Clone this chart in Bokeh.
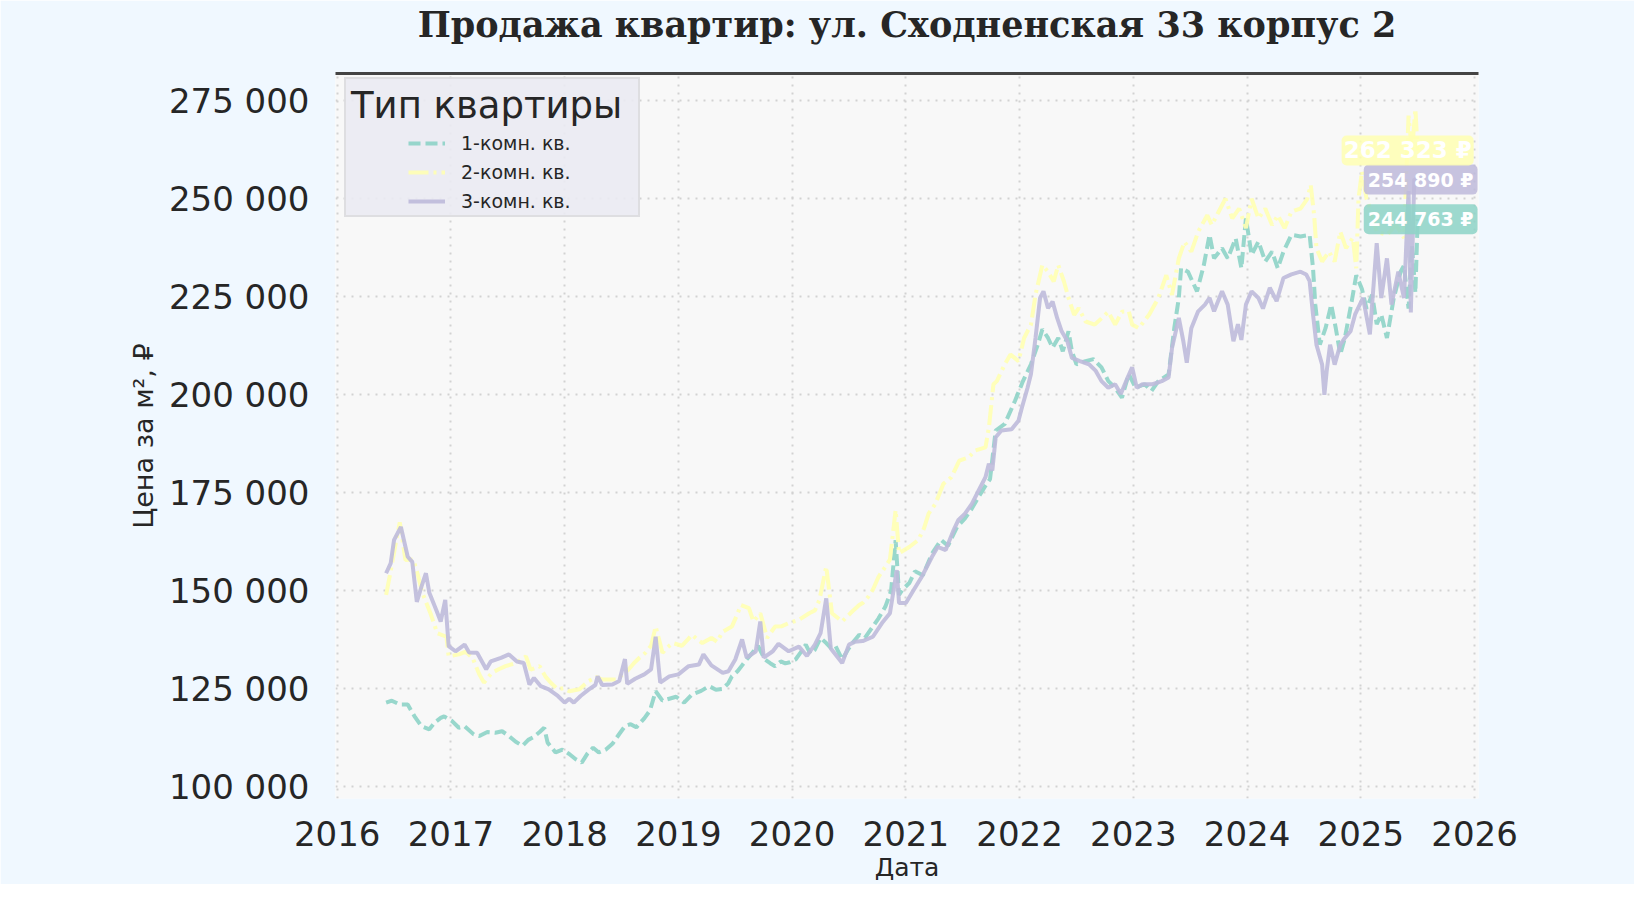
from bokeh.plotting import figure
from bokeh.models import (Legend, LegendItem, Label, LinearAxis, FixedTicker,
                          Range1d)
from bokeh.embed import file_html
from bokeh.resources import INLINE

# ---- data (dates as decimal years, prices in rub / m2) ----
t1 = [2016.43, 2016.48, 2016.55, 2016.62, 2016.68, 2016.74, 2016.81, 2016.86, 2016.91, 2016.94,
      2017.01, 2017.07, 2017.12, 2017.20, 2017.25, 2017.32, 2017.39, 2017.45, 2017.51, 2017.57,
      2017.63, 2017.68, 2017.72, 2017.78, 2017.82, 2017.85, 2017.92, 2017.98, 2018.04, 2018.10,
      2018.15, 2018.20, 2018.25, 2018.30, 2018.36, 2018.42, 2018.48, 2018.53, 2018.58, 2018.63,
      2018.70, 2018.75, 2018.80, 2018.86, 2018.92, 2018.98, 2019.05, 2019.12, 2019.20, 2019.27,
      2019.33, 2019.39, 2019.44, 2019.47, 2019.52, 2019.56, 2019.60, 2019.65, 2019.70, 2019.76,
      2019.81, 2019.85, 2019.90, 2019.94, 2019.98, 2020.03, 2020.08, 2020.12, 2020.16, 2020.20,
      2020.25, 2020.30, 2020.34, 2020.38, 2020.44, 2020.49, 2020.53, 2020.59, 2020.64, 2020.70,
      2020.76, 2020.82, 2020.87, 2020.91, 2020.94, 2020.97, 2021.03, 2021.08, 2021.15, 2021.23,
      2021.31, 2021.37, 2021.45, 2021.52, 2021.58, 2021.64, 2021.70, 2021.74, 2021.79, 2021.87,
      2021.96, 2022.03, 2022.10, 2022.16, 2022.20, 2022.25, 2022.29, 2022.34, 2022.38, 2022.43,
      2022.46, 2022.50, 2022.58, 2022.65, 2022.72, 2022.78, 2022.84, 2022.90, 2022.96, 2023.02,
      2023.10, 2023.16, 2023.22, 2023.31, 2023.36, 2023.40, 2023.42, 2023.48, 2023.56, 2023.62,
      2023.67, 2023.71, 2023.78, 2023.83, 2023.90, 2023.95, 2023.99, 2024.04, 2024.10, 2024.16,
      2024.22, 2024.27, 2024.32, 2024.39, 2024.47, 2024.55, 2024.58, 2024.60, 2024.64, 2024.69,
      2024.74, 2024.78, 2024.82, 2024.86, 2024.92, 2024.96, 2025.01, 2025.05, 2025.10, 2025.14,
      2025.18, 2025.23, 2025.29, 2025.35, 2025.38, 2025.42, 2025.45, 2025.48, 2025.50]
p1 = [121500, 122000, 121000, 121000, 118000, 115500, 114700, 116500, 117600, 118000,
      116800, 115100, 115500, 113400, 113000, 114000, 113800, 114200, 113000, 111500,
      110500, 112000, 112600, 114000, 115100, 111300, 108800, 109500, 108400, 107000,
      106200, 108500, 110000, 108800, 109500, 111000, 113500, 115500, 116000, 115200,
      117500, 119500, 124400, 122000, 122500, 123000, 121500, 123600, 124500, 125700,
      124800, 125000, 126500, 128200, 129500, 131000, 132500, 134200, 136000, 132500,
      131500, 130800, 132000, 131500, 131800, 132500, 134500, 136300, 134000, 135000,
      138000, 136700, 135500, 136000, 132500, 135000, 136700, 138800, 138000, 140500,
      143000, 146000, 150000, 162900, 149000, 150300, 152000, 155000, 154000, 159500,
      163000, 161500, 166300, 168500, 171000, 174000, 176800, 178500, 190900, 192600,
      198500, 203500, 207800, 212800, 216700, 214500, 212000, 214500, 211100, 216200,
      211100, 207800, 208600, 209100, 207000, 203500, 201800, 199300, 205300, 201800,
      202700, 201000, 203500, 205200, 217000, 224700, 232300, 231400, 226400, 233100,
      240800, 234800, 237400, 234800, 239900, 232300, 245000, 235700, 239100, 234000,
      236500, 232300, 236500, 240800, 240400, 240800, 232300, 223000, 212800, 217000,
      223000, 217000, 210300, 214500, 223800, 230500, 227000, 222000, 225500, 218000,
      220500, 214500, 224700, 231400, 233000, 222000, 238000, 226000, 244763]

t2 = [2016.43, 2016.47, 2016.52, 2016.55, 2016.60, 2016.67, 2016.71, 2016.75, 2016.82, 2016.88,
      2016.96, 2016.98, 2017.07, 2017.13, 2017.19, 2017.25, 2017.29, 2017.36, 2017.42, 2017.48,
      2017.57, 2017.66, 2017.70, 2017.78, 2017.83, 2017.88, 2017.94, 2017.99, 2018.04, 2018.13,
      2018.21, 2018.28, 2018.33, 2018.40, 2018.45, 2018.51, 2018.56, 2018.61, 2018.66, 2018.71,
      2018.76, 2018.80, 2018.86, 2018.90, 2018.95, 2019.03, 2019.08, 2019.12, 2019.17, 2019.21,
      2019.29, 2019.34, 2019.39, 2019.47, 2019.51, 2019.55, 2019.62, 2019.66, 2019.72, 2019.78,
      2019.85, 2019.91, 2019.97, 2020.06, 2020.15, 2020.20, 2020.24, 2020.30, 2020.35, 2020.44,
      2020.53, 2020.59, 2020.62, 2020.67, 2020.71, 2020.76, 2020.82, 2020.86, 2020.91, 2020.94,
      2021.03, 2021.11, 2021.16, 2021.20, 2021.26, 2021.33, 2021.40, 2021.47, 2021.55, 2021.61,
      2021.70, 2021.73, 2021.77, 2021.80, 2021.87, 2021.92, 2021.99, 2022.04, 2022.10, 2022.14,
      2022.20, 2022.25, 2022.30, 2022.34, 2022.39, 2022.43, 2022.48, 2022.52, 2022.58, 2022.66,
      2022.72, 2022.78, 2022.84, 2022.90, 2022.96, 2022.99, 2023.05, 2023.10, 2023.14, 2023.22,
      2023.29, 2023.34, 2023.40, 2023.45, 2023.51, 2023.57, 2023.65, 2023.69, 2023.75, 2023.81,
      2023.87, 2023.93, 2023.99, 2024.04, 2024.10, 2024.16, 2024.22, 2024.27, 2024.33, 2024.39,
      2024.47, 2024.53, 2024.56, 2024.59, 2024.61, 2024.66, 2024.72, 2024.77, 2024.82, 2024.87,
      2024.93, 2024.96, 2024.98, 2025.01, 2025.05, 2025.10, 2025.14, 2025.23, 2025.31, 2025.38,
      2025.42, 2025.45, 2025.48, 2025.50]
p2 = [149000, 155000, 163000, 167500, 157900, 158000, 154000, 149400, 144300, 139200,
      138300, 133300, 133800, 134500, 132900, 128700, 126600, 129100, 130000, 130800,
      131600, 133300, 129900, 130800, 128200, 126500, 124900, 125200, 124400, 124900,
      127000, 128000, 127400, 127400, 127400, 128700, 129900, 131600, 133000, 134200,
      136000, 140900, 134200, 135500, 136700, 136000, 137500, 138800, 137500, 136700,
      138000, 137000, 139600, 140900, 143500, 146400, 145600, 142200, 144300, 138000,
      140900, 141000, 141800, 142600, 144300, 145000, 147700, 156200, 144300, 142200,
      144800, 146400, 146900, 148500, 150300, 153600, 156200, 158000, 170600, 159600,
      161200, 163000, 166000, 169700, 172200, 177300, 179000, 183200, 184000, 185800,
      186600, 191600, 202700, 203500, 207800, 210300, 208600, 214500, 217900, 225500,
      233100, 231400, 228900, 233100, 228900, 224700, 220400, 222100, 218700, 217900,
      219500, 221200, 217900, 221200, 221300, 217900, 217000, 219000, 220500, 224700,
      230500, 225500, 234800, 239000, 236500, 241600, 245800, 243300, 246700, 250000,
      245000, 247500, 242500, 250000, 245000, 247500, 243300, 245800, 242500, 246700,
      247500, 250000, 253500, 245800, 237400, 234000, 236500, 234000, 241600, 237400,
      240000, 232300, 250000, 257000, 250000, 246000, 241600, 240800, 243300, 240000,
      271200, 262000, 272900, 262323]

t3 = [2016.43, 2016.47, 2016.50, 2016.56, 2016.62, 2016.66, 2016.70, 2016.74, 2016.78, 2016.81,
      2016.87, 2016.91, 2016.95, 2016.98, 2017.04, 2017.12, 2017.16, 2017.23, 2017.31, 2017.35,
      2017.44, 2017.51, 2017.58, 2017.64, 2017.69, 2017.73, 2017.79, 2017.86, 2017.94, 2018.00,
      2018.04, 2018.08, 2018.14, 2018.21, 2018.27, 2018.29, 2018.33, 2018.42, 2018.48, 2018.53,
      2018.55, 2018.62, 2018.70, 2018.76, 2018.80, 2018.84, 2018.92, 2019.00, 2019.09, 2019.18,
      2019.22, 2019.29, 2019.39, 2019.44, 2019.50, 2019.56, 2019.60, 2019.68, 2019.72, 2019.75,
      2019.83, 2019.88, 2019.97, 2020.06, 2020.13, 2020.20, 2020.25, 2020.30, 2020.34, 2020.44,
      2020.50, 2020.55, 2020.62, 2020.71, 2020.79, 2020.86, 2020.92, 2020.94, 2021.00, 2021.07,
      2021.14, 2021.23, 2021.28, 2021.35, 2021.42, 2021.46, 2021.52, 2021.58, 2021.64, 2021.70,
      2021.73, 2021.76, 2021.79, 2021.84, 2021.93, 2021.99, 2022.02, 2022.07, 2022.10, 2022.14,
      2022.18, 2022.21, 2022.25, 2022.29, 2022.33, 2022.37, 2022.42, 2022.46, 2022.53, 2022.61,
      2022.67, 2022.72, 2022.78, 2022.84, 2022.89, 2022.95, 2022.99, 2023.03, 2023.08, 2023.17,
      2023.25, 2023.31, 2023.34, 2023.40, 2023.44, 2023.47, 2023.51, 2023.57, 2023.63, 2023.67,
      2023.71, 2023.78, 2023.83, 2023.88, 2023.92, 2023.95, 2023.99, 2024.04, 2024.10, 2024.14,
      2024.20, 2024.26, 2024.32, 2024.39, 2024.47, 2024.52, 2024.55, 2024.58, 2024.61, 2024.66,
      2024.68, 2024.70, 2024.73, 2024.77, 2024.82, 2024.86, 2024.91, 2024.95, 2025.02, 2025.08,
      2025.14, 2025.18, 2025.23, 2025.27, 2025.33, 2025.38, 2025.42, 2025.44, 2025.47, 2025.50]
p3 = [154500, 157000, 163000, 166300, 158700, 157400, 147200, 151000, 154500, 149500,
      145200, 142200, 147700, 135900, 134600, 136300, 134300, 134200, 130000, 132000,
      132900, 133800, 132000, 131600, 126100, 127800, 125700, 124900, 123200, 121500,
      122500, 121500, 123200, 124800, 126000, 128200, 126000, 126100, 127000, 132600,
      126300, 127600, 128700, 130000, 138300, 126600, 128200, 128700, 130800, 131200,
      133800, 131000, 129100, 129500, 132500, 137600, 133000, 134500, 142200, 133000,
      134600, 136500, 134600, 135800, 133400, 136300, 139200, 148100, 135300, 131600,
      136300, 137000, 137200, 138300, 141800, 144300, 155300, 146900, 146900, 150300,
      153600, 158700, 161200, 160400, 165500, 168000, 169700, 172200, 175600, 179000,
      182400, 180700, 189200, 190900, 191200, 193400, 196700, 201800, 205300, 214500,
      224700, 226400, 222100, 223800, 219600, 216200, 213700, 209400, 208600, 207800,
      206100, 203500, 201800, 202700, 200200, 204400, 207000, 201800, 202700, 202700,
      203500, 204400, 211900, 219600, 213600, 208200, 217000, 221300, 223000, 224700,
      221300, 226400, 223000, 213700, 218000, 214000, 223000, 226400, 224700, 222000,
      227300, 223900, 229800, 230700, 231400, 230700, 229000, 220500, 212800, 207700,
      200000, 206000, 212800, 207700, 212800, 214500, 216200, 220500, 224700, 215400,
      238700, 224700, 234800, 223000, 231400, 224700, 252000, 221000, 255000, 254890]

series_names = ["1-комн. кв.", "2-комн. кв.", "3-комн. кв."]
colors = ["#8dd3c7", "#ffffb3", "#bebada"]
year_ticks = list(range(2016, 2027))
price_ticks = list(range(100000, 275001, 25000))
title_text = "Продажа квартир: ул. Сходненская 33 корпус 2"

ink = "#262626"

p = figure(width=1634, height=884, output_backend="svg", toolbar_location=None,
           x_range=Range1d(2015.985, 2026.035), y_range=Range1d(97050, 281950),
           min_border_left=335, min_border_right=156, min_border_top=72, min_border_bottom=86,
           x_axis_label="Дата", y_axis_label="Цена за м², ₽")

p.background_fill_color = "#f8f8f8"
p.border_fill_color = "#f0f8ff"
p.outline_line_color = None

xa = p.below[0]
ya = p.left[0]
xa.ticker = FixedTicker(ticks=year_ticks)
xa.major_label_overrides = {y: str(y) for y in year_ticks}
ya.ticker = FixedTicker(ticks=price_ticks)
ya.major_label_overrides = {v: f"{v:,}".replace(",", " ") for v in price_ticks}

for ax in (xa, ya):
    ax.axis_line_color = None
    ax.major_tick_line_color = None
    ax.minor_tick_line_color = None
    ax.major_tick_in = 0
    ax.major_tick_out = 0
    ax.minor_tick_in = 0
    ax.minor_tick_out = 0
    ax.major_label_text_font = "DejaVu Sans"
    ax.major_label_text_font_size = "34px"
    ax.major_label_text_color = ink
    ax.axis_label_text_font = "DejaVu Sans"
    ax.axis_label_text_font_style = "normal"
    ax.axis_label_text_color = ink
xa.axis_label_text_font_size = "25px"
ya.axis_label_text_font_size = "27px"
xa.major_label_standoff = 22
xa.axis_label_standoff = 4
ya.major_label_standoff = 26
ya.axis_label_standoff = 7

# dark line along the top of the plot area; its label carries the chart title
top = LinearAxis(ticker=FixedTicker(ticks=[]), axis_line_color="#444444", axis_line_width=3,
                 major_tick_line_color=None, minor_tick_line_color=None,
                 major_tick_in=0, major_tick_out=0, major_label_standoff=0,
                 axis_label=title_text, axis_label_standoff=29,
                 axis_label_text_font="DejaVu Serif", axis_label_text_font_style="bold",
                 axis_label_text_font_size="35px", axis_label_text_color=ink)
p.add_layout(top, "above")

p.grid.grid_line_color = "#d2d2d2"
p.grid.grid_line_width = 2
p.grid.grid_line_dash = "2 6"

r1 = p.line(t1, p1, color=colors[0], line_width=4, line_dash="12 5", line_alpha=0.9)
r2 = p.line(t2, p2, color=colors[1], line_width=4, line_dash="20 5 3 5", line_alpha=0.9)
r3 = p.line(t3, p3, color=colors[2], line_width=4, line_alpha=0.9)

# legend box with title (item glyphs hidden) + indented legend with the real items
ghosts = [p.line([], [], line_alpha=0) for _ in range(3)]
common = dict(title="Тип квартиры", title_text_font="DejaVu Sans", title_text_font_size="37px",
              title_text_font_style="normal", title_text_color=ink, title_standoff=3,
              label_text_font="DejaVu Sans", label_text_font_size="19px", label_text_color=ink,
              glyph_width=37, glyph_height=22, label_height=22, label_standoff=16,
              spacing=7, padding=5, margin=0)
box = Legend(items=[LegendItem(label=n, renderers=[g]) for n, g in zip(series_names, ghosts)],
             location=(9, 581), background_fill_color="#eaeaf2", background_fill_alpha=0.9,
             border_line_color="#d0d0d0", border_line_width=2, label_text_alpha=0,
             label_width=229, **common)
items = Legend(items=[LegendItem(label=n, renderers=[r]) for n, r in zip(series_names, [r1, r2, r3])],
               location=(68, 581), background_fill_alpha=0, border_line_alpha=0,
               title_text_alpha=0, **common)
p.add_layout(box)
p.add_layout(items)

# end-of-series value tags
for tt, vv, c, fs, dx, pad in [(t1, p1, colors[0], "19px", 3, 4), (t3, p3, colors[2], "19px", 3, 4),
                               (t2, p2, colors[1], "23px", -10, 2)]:
    p.add_layout(Label(x=tt[-1], y=vv[-1], x_offset=dx,
                       text=f"{vv[-1]:,}".replace(",", " ") + " ₽",
                       text_align="center", text_baseline="middle",
                       text_font="DejaVu Sans", text_font_style="bold", text_font_size=fs,
                       text_color="white", background_fill_color=c, background_fill_alpha=0.85,
                       border_radius=5, padding=pad))

open("out.html", "w").write(file_html(p, INLINE))
